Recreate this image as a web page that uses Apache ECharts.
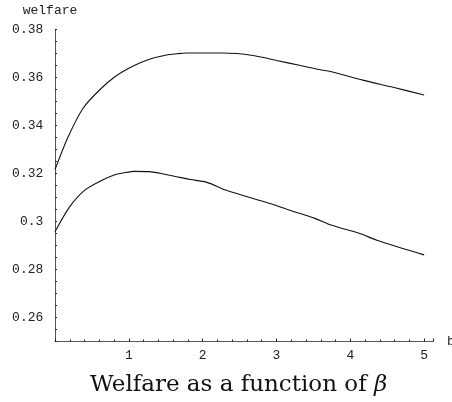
<!DOCTYPE html>
<html>
<head>
<meta charset="utf-8">
<script src="https://cdn.jsdelivr.net/npm/echarts@6/dist/echarts.min.js"></script>
<style>
  html, body { margin: 0; padding: 0; background: #fff; }
  #chart { width: 452px; height: 402px; }
</style>
</head>
<body>
<div id="chart"></div>
<script>
// beta values and welfare
var betaUpper = [0, 0.18, 0.38, 0.61, 0.83, 1.06, 1.28, 1.51, 1.65, 1.78, 2.0, 2.27, 2.68, 3.0, 3.31, 3.58, 3.76, 4.17, 4.58, 5.0];
var welfareUpper = [0.3216, 0.3354, 0.3472, 0.355, 0.3607, 0.3648, 0.3676, 0.3694, 0.3699, 0.3702, 0.3702, 0.3702, 0.3692, 0.3671, 0.3651, 0.3633, 0.3623, 0.3589, 0.3559, 0.3527];

var betaLower = [0, 0.2, 0.4, 0.63, 0.81, 0.92, 1.08, 1.28, 1.42, 1.69, 1.83, 2.05, 2.32, 2.91, 3.14, 3.32, 3.52, 3.75, 4.13, 4.36, 5.0];
var welfareLower = [0.2957, 0.3062, 0.313, 0.3171, 0.3195, 0.3202, 0.3209, 0.3208, 0.3201, 0.3184, 0.3175, 0.3164, 0.313, 0.3075, 0.3051, 0.3033, 0.3013, 0.2984, 0.295, 0.2922, 0.2861];

var yLabels = ['0.26', '0.28', '0.3', '0.32', '0.34', '0.36', '0.38'];

function pairs(xs, ys) {
  return xs.map(function (x, i) { return [x, ys[i]]; });
}

var chart = echarts.init(document.getElementById('chart'));
var mono = 'Liberation Mono';
var axisColor = '#555';

chart.setOption({
  animation: false,
  backgroundColor: '#fff',
  title: {
    text: 'Welfare as a function of {b|β}',
    left: 85,
    top: 369,
    textStyle: {
      fontFamily: 'DejaVu Serif',
      fontSize: 23,
      fontWeight: 'normal',
      color: '#111',
      rich: {
        b: { fontFamily: 'DejaVu Serif', fontStyle: 'italic', fontSize: 23, color: '#111' }
      }
    }
  },
  grid: { left: 55, right: 19, top: 29.5, bottom: 60.5, outerBoundsMode: 'none', containLabel: false },
  xAxis: {
    type: 'value',
    min: 0,
    max: 5.12,
    interval: 1,
    name: 'b',
    nameLocation: 'end',
    nameGap: 14,
    nameTextStyle: { fontFamily: mono, fontSize: 13, color: '#222', verticalAlign: 'middle' },
    axisLine: { show: true, lineStyle: { color: axisColor, width: 1 } },
    axisTick: { show: true, inside: true, length: 3, lineStyle: { color: '#222' } },
    minorTick: { show: true, splitNumber: 5, length: 2, lineStyle: { color: '#222' } },
    splitLine: { show: false },
    axisLabel: {
      fontFamily: mono, fontSize: 13, color: '#222', margin: 8,
      showMinLabel: false,
      showMaxLabel: false
    }
  },
  yAxis: {
    type: 'value',
    min: 0.25,
    max: 0.38,
    interval: 0.005,
    offset: 1.7,
    name: 'welfare',
    nameLocation: 'end',
    nameGap: 12,
    nameTextStyle: { fontFamily: mono, fontSize: 13, color: '#222', align: 'center', padding: [0, 0, 0, -10] },
    axisLine: { show: true, lineStyle: { color: axisColor, width: 1 } },
    axisTick: { show: true, inside: true, length: 2, lineStyle: { color: '#222' } },
    splitLine: { show: false },
    axisLabel: {
      fontFamily: mono, fontSize: 13, color: '#222', margin: 10,
      formatter: function (v) {
        var s = String(parseFloat(v.toFixed(3)));
        return yLabels.indexOf(s) >= 0 ? s : '';
      }
    }
  },
  series: [
    {
      type: 'line',
      data: pairs(betaUpper, welfareUpper),
      smooth: 0.3,
      symbol: 'none',
      lineStyle: { color: '#111', width: 1.1 }
    },
    {
      type: 'line',
      data: pairs(betaLower, welfareLower),
      smooth: 0.3,
      symbol: 'none',
      lineStyle: { color: '#111', width: 1.1 }
    }
  ]
});
</script>
</body>
</html>
